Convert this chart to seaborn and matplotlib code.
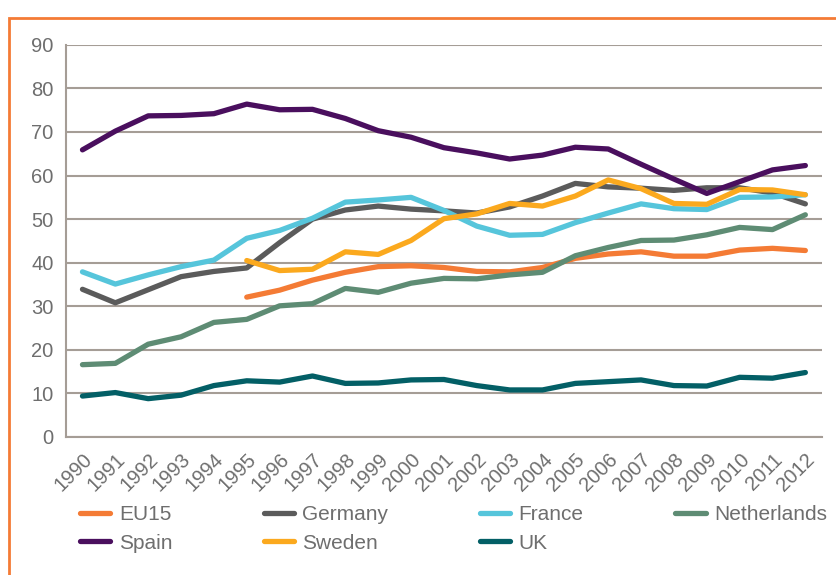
import matplotlib
matplotlib.use('Agg')
import matplotlib.pyplot as plt
import numpy as np
import pandas as pd
import seaborn as sns
from matplotlib.patches import Rectangle
from matplotlib.ticker import FixedLocator

years = list(range(1990, 2013))
nan = np.nan

eu15 = [nan, nan, nan, nan, nan, 32.1, 33.7, 36.0, 37.8, 39.1, 39.3, 38.9, 38.0, 37.9,
        38.9, 41.0, 42.0, 42.5, 41.5, 41.5, 42.9, 43.3, 42.8]
germany = [33.9, 30.8, 33.8, 36.8, 38.0, 38.8, 44.6, 50.0, 52.1, 53.0, 52.3, 51.9, 51.4, 52.8,
           55.3, 58.2, 57.4, 57.1, 56.6, 57.2, 57.2, 56.0, 53.5]
france = [37.9, 35.1, 37.2, 39.1, 40.6, 45.6, 47.4, 50.2, 53.9, 54.4, 55.0, 52.0, 48.4, 46.3,
          46.5, 49.2, 51.4, 53.5, 52.4, 52.2, 55.0, 55.1, 55.6]
netherlands = [16.6, 16.9, 21.3, 23.0, 26.3, 27.0, 30.1, 30.6, 34.1, 33.2, 35.3, 36.4, 36.3, 37.2,
               37.8, 41.6, 43.5, 45.1, 45.2, 46.4, 48.1, 47.6, 51.0]
spain = [65.9, 70.2, 73.7, 73.8, 74.2, 76.4, 75.1, 75.2, 73.1, 70.3, 68.8, 66.4, 65.2, 63.8,
         64.7, 66.5, 66.1, 62.6, 59.2, 55.9, 58.6, 61.3, 62.3]
sweden = [nan, nan, nan, nan, nan, 40.5, 38.2, 38.5, 42.5, 41.9, 45.1, 50.1, 51.2, 53.6,
          53.0, 55.3, 59.0, 57.0, 53.6, 53.4, 56.8, 56.7, 55.6]
uk = [9.4, 10.2, 8.8, 9.6, 11.8, 12.9, 12.6, 14.0, 12.3, 12.4, 13.1, 13.2, 11.8, 10.8,
      10.8, 12.3, 12.7, 13.1, 11.8, 11.7, 13.7, 13.5, 14.8]

series = {'EU15': eu15, 'Germany': germany, 'France': france, 'Netherlands': netherlands,
          'Spain': spain, 'Sweden': sweden, 'UK': uk}
colors = {'EU15': '#F47B35', 'Germany': '#5B5B5B', 'France': '#56C5DB', 'Netherlands': '#5E8C74',
          'Spain': '#4A0F5E', 'Sweden': '#FBA91E', 'UK': '#035F66'}

df = pd.concat([pd.DataFrame({'Year': years, 'Value': v, 'Country': k}) for k, v in series.items()])
df = df.dropna()

sns.set_style('white')
plt.rcParams['font.family'] = ['Liberation Sans', 'DejaVu Sans']
text_color = '#6E6E6E'
grid_color = '#A59D96'

fig = plt.figure(figsize=(8.36, 5.75), dpi=100)
ax = fig.add_axes([0.079, 0.24, 0.904, 0.682])

for k in series:
    sub = df[df['Country'] == k]
    sns.lineplot(data=sub, x='Year', y='Value', color=colors[k], lw=3.8, ax=ax,
                 label=k, solid_capstyle='round', solid_joinstyle='round', zorder=3)

ax.set_xlim(1989.5, 2012.5)
ax.set_ylim(0, 90)
ax.set_yticks(range(0, 91, 10))
ax.yaxis.grid(True, color=grid_color, lw=1.5)
ax.set_axisbelow(True)
ax.set_xticks(years)
ax.set_xticklabels([str(y) for y in years], rotation=45, ha='right', rotation_mode='anchor')
ax.xaxis.set_minor_locator(FixedLocator([y + 0.5 for y in years[:-1]] + [2012.5]))
ax.tick_params(axis='x', which='major', length=0, labelsize=14.5, colors=text_color, pad=9)
ax.tick_params(axis='x', which='minor', length=8, width=1.2, direction='in', color=grid_color)
ax.tick_params(axis='y', length=0, labelsize=14.5, colors=text_color, pad=9)
ax.set_xlabel('')
ax.set_ylabel('')
for s in ['top', 'right']:
    ax.spines[s].set_visible(False)
for s in ['left', 'bottom']:
    ax.spines[s].set_color(grid_color)
    ax.spines[s].set_linewidth(1.5)

handles, labels = ax.get_legend_handles_labels()
ax.legend_.remove() if ax.legend_ else None
order = ['EU15', 'Spain', 'Germany', 'Sweden', 'France', 'UK', 'Netherlands']
hmap = dict(zip(labels, handles))
leg = fig.legend([hmap[o] for o in order], order, ncol=4, loc='upper left',
                 bbox_to_anchor=(0.086, 0.136), frameon=False, fontsize=15,
                 handlelength=1.45, handletextpad=0.4, columnspacing=4.4, labelspacing=0.45,
                 borderaxespad=0)
for t in leg.get_texts():
    t.set_color(text_color)

fig.patches.append(Rectangle((9 / 836, -0.1), 1.2, 1 - 18 / 575 + 0.1, transform=fig.transFigure,
                             fill=False, edgecolor='#F47B35', lw=2))

fig.savefig('out.png', dpi=100)
